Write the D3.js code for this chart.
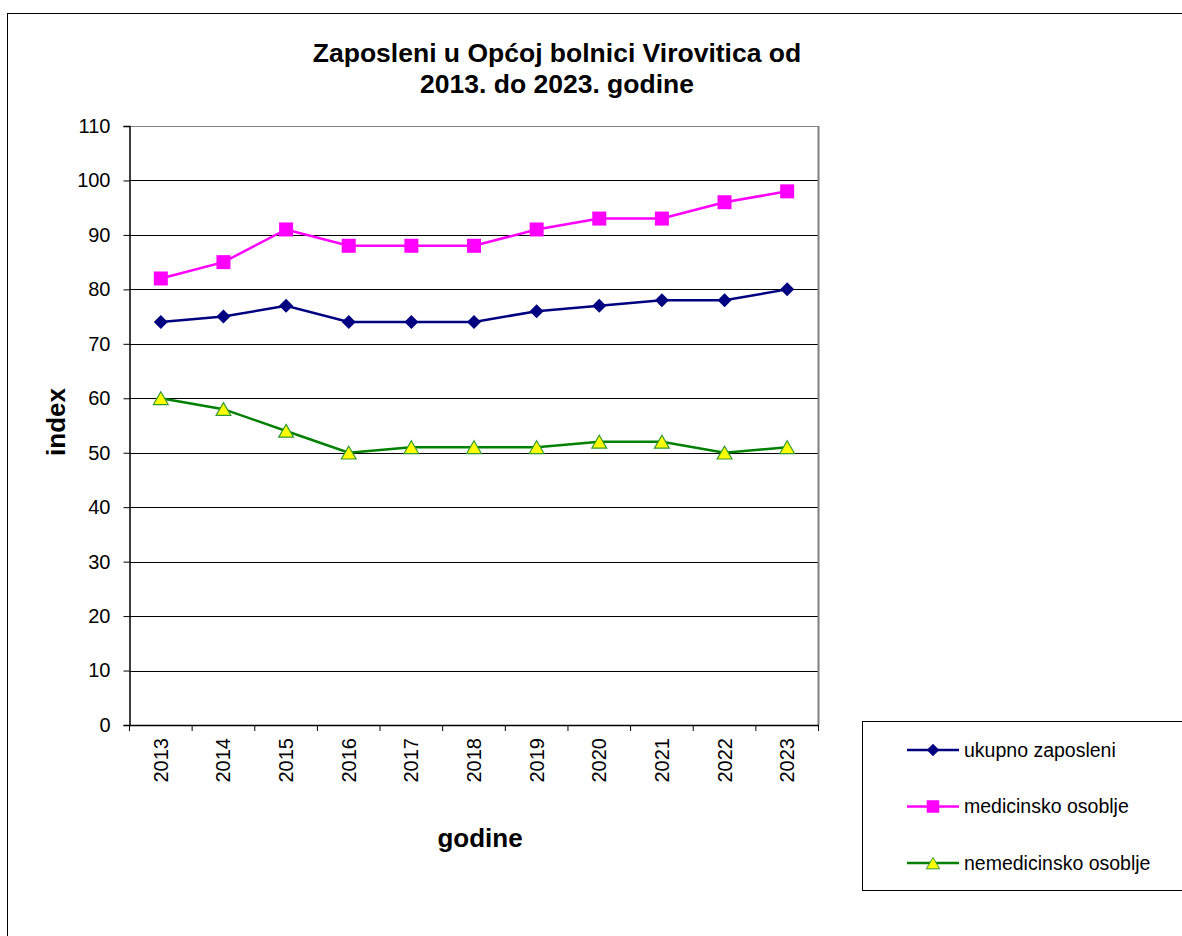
<!DOCTYPE html>
<html>
<head>
<meta charset="utf-8">
<script src="https://cdn.jsdelivr.net/npm/d3@7"></script>
<style>
  body { margin: 0; background: #fff; }
  text { font-family: "Liberation Sans", Arial, sans-serif; }
</style>
</head>
<body>
<svg id="chart" width="1182" height="936"></svg>
<script>
// data
let years = ["2013", "2014", "2015", "2016", "2017", "2018", "2019", "2020", "2021", "2022", "2023"];
let ukupno = [74, 75, 77, 74, 74, 74, 76, 77, 78, 78, 80];
let medicinsko = [82, 85, 91, 88, 88, 88, 91, 93, 93, 96, 98];
let nemedicinsko = [60, 58, 54, 50, 51, 51, 51, 52, 52, 50, 51];
let yTicks = d3.range(0, 111, 10);

let series = [
    { name: "ukupno zaposleni", values: ukupno, color: "#000080", symbol: d3.symbolDiamond2, size: 125, fill: "#000080", stroke: "none", dy: 0 },
    { name: "medicinsko osoblje", values: medicinsko, color: "#FF00FF", symbol: d3.symbolSquare, size: 196, fill: "#FF00FF", stroke: "none", dy: 0 },
    { name: "nemedicinsko osoblje", values: nemedicinsko, color: "#008000", symbol: d3.symbolTriangle, size: 95, fill: "#FFFF00", stroke: "#339933", dy: 2 },
];

let svg = d3.select("#chart");

// outer frame
svg.append("rect")
    .attr("x", 7.5).attr("y", 13.5)
    .attr("width", 1200).attr("height", 960)
    .attr("fill", "none").attr("stroke", "#000").attr("stroke-width", 1);

let plot = { left: 129.5, top: 126, right: 818.5, bottom: 725 };

let x = d3.scaleBand().domain(years).range([plot.left, plot.right]);
let y = d3.scaleLinear().domain([0, 110]).range([plot.bottom, plot.top]);

// gridlines
svg.append("g").selectAll("line")
    .data(yTicks.filter(d => d > 0))
    .enter().append("line")
    .attr("x1", plot.left).attr("x2", plot.right)
    .attr("y1", d => Math.round(y(d)) + 0.5).attr("y2", d => Math.round(y(d)) + 0.5)
    .attr("stroke", d => d == 110 ? "#808080" : "#000").attr("stroke-width", 1);

// right border
svg.append("line")
    .attr("x1", plot.right).attr("x2", plot.right)
    .attr("y1", plot.top).attr("y2", plot.bottom)
    .attr("stroke", "#808080").attr("stroke-width", 2);

// y axis
let yAxis = svg.append("g")
    .attr("transform", `translate(${plot.left},0)`)
    .call(d3.axisLeft(y).tickValues(yTicks).tickSize(6).tickPadding(13));
yAxis.attr("font-size", null).attr("font-family", null);
yAxis.select(".domain").attr("stroke", "#000").attr("stroke-width", 1.5);
yAxis.selectAll("text").style("font-size", "20px").attr("fill", "#000")
    .style("font-family", "'Liberation Sans', Arial, sans-serif");

// x axis
let xAxis = svg.append("g")
    .attr("transform", `translate(0,${plot.bottom})`)
    .call(d3.axisBottom(x).tickSize(0).tickPadding(0));
xAxis.attr("font-size", null).attr("font-family", null);
xAxis.select(".domain").attr("stroke", "#000").attr("stroke-width", 1.5);
xAxis.selectAll(".tick line").remove();
xAxis.selectAll("text")
    .style("font-size", "20px").attr("fill", "#000")
    .style("font-family", "'Liberation Sans', Arial, sans-serif")
    .attr("text-anchor", "end")
    .attr("y", 0)
    .attr("dy", "0.35em")
    .attr("transform", "translate(0,13) rotate(-90)");
// category separators
svg.append("g").selectAll("line")
    .data(years.concat(["end"]))
    .enter().append("line")
    .attr("x1", (d, i) => i < years.length ? x(d) : plot.right)
    .attr("x2", (d, i) => i < years.length ? x(d) : plot.right)
    .attr("y1", plot.bottom).attr("y2", plot.bottom + 6)
    .attr("stroke", "#000");

// lines and markers
let line = d3.line()
    .x((d, i) => x(years[i]) + x.bandwidth() / 2)
    .y(d => y(d));

series.forEach(s => {
    svg.append("path")
        .datum(s.values)
        .attr("d", line)
        .attr("fill", "none")
        .attr("stroke", s.color)
        .attr("stroke-width", 2.5);
    svg.append("g").selectAll("path")
        .data(s.values)
        .enter().append("path")
        .attr("d", d3.symbol().type(s.symbol).size(s.size))
        .attr("transform", (d, i) => `translate(${x(years[i]) + x.bandwidth() / 2},${y(d) + s.dy})`)
        .attr("fill", s.fill)
        .attr("stroke", s.stroke)
        .attr("stroke-width", 1.2);
});

// title
let title = svg.append("text")
    .attr("text-anchor", "middle")
    .attr("font-size", 26.5).attr("font-weight", "bold");
title.append("tspan").attr("x", 557).attr("y", 62).text("Zaposleni u Općoj bolnici Virovitica od");
title.append("tspan").attr("x", 557).attr("y", 93).text("2013. do 2023. godine");

// axis titles
svg.append("text")
    .attr("transform", "translate(65,422) rotate(-90)")
    .attr("text-anchor", "middle")
    .attr("font-size", 26).attr("font-weight", "bold")
    .text("index");

svg.append("text")
    .attr("x", 480).attr("y", 847)
    .attr("text-anchor", "middle")
    .attr("font-size", 26).attr("font-weight", "bold")
    .text("godine");

// legend
svg.append("rect")
    .attr("x", 862.5).attr("y", 721.5)
    .attr("width", 340).attr("height", 169)
    .attr("fill", "#fff").attr("stroke", "#000").attr("stroke-width", 1);

let legend = svg.append("g").selectAll("g")
    .data(series)
    .enter().append("g")
    .attr("transform", (d, i) => `translate(0,${750 + i * 56.5})`);
legend.append("line")
    .attr("x1", 907).attr("x2", 959).attr("y1", 0).attr("y2", 0)
    .attr("stroke", d => d.color).attr("stroke-width", 2.5);
legend.append("path")
    .attr("d", d => d3.symbol().type(d.symbol).size(d.size * 0.8)())
    .attr("transform", d => `translate(933,${d.dy})`)
    .attr("fill", d => d.fill)
    .attr("stroke", d => d.stroke);
legend.append("text")
    .attr("x", 964).attr("y", 0).attr("dy", "0.35em")
    .attr("font-size", 19.5)
    .text(d => d.name);
</script>
</body>
</html>
